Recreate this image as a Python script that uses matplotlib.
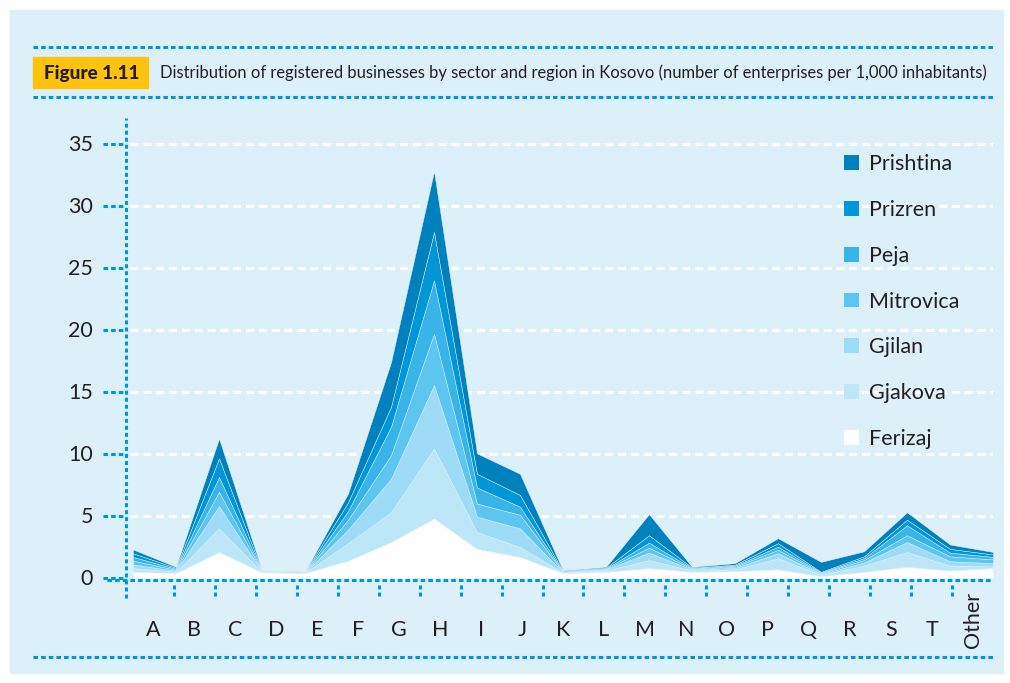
import matplotlib
matplotlib.use("Agg")
import matplotlib.pyplot as plt
from matplotlib.patches import Rectangle
from matplotlib.lines import Line2D

# sectors (x axis)
sectors = ['A', 'B', 'C', 'D', 'E', 'F', 'G', 'H', 'I', 'J', 'K',
           'L', 'M', 'N', 'O', 'P', 'Q', 'R', 'S', 'T', 'Other']

# enterprises per 1,000 inhabitants, stacked bottom -> top
ferizaj   = [0.50, 0.40, 2.10, 0.45, 0.40, 1.40, 2.90, 4.80, 2.35, 1.70, 0.40,
             0.50, 0.80, 0.50, 0.55, 0.70, 0.15, 0.50, 0.90, 0.60, 0.80]
gjakova   = [0.30, 0.10, 1.90, 0.03, 0.02, 1.40, 2.40, 5.65, 1.35, 0.80, 0.03,
             0.10, 0.65, 0.10, 0.15, 0.90, 0.10, 0.50, 1.20, 0.40, 0.15]
gjilan    = [0.30, 0.08, 1.80, 0.03, 0.02, 1.10, 2.70, 5.10, 1.25, 1.50, 0.03,
             0.08, 0.60, 0.08, 0.12, 0.40, 0.08, 0.25, 0.80, 0.35, 0.25]
mitrovica = [0.30, 0.08, 1.15, 0.02, 0.02, 0.80, 1.90, 4.15, 1.05, 1.10, 0.03,
             0.05, 0.40, 0.06, 0.10, 0.27, 0.06, 0.20, 0.55, 0.40, 0.30]
peja      = [0.30, 0.08, 1.20, 0.02, 0.02, 0.70, 2.30, 4.30, 1.30, 0.65, 0.03,
             0.05, 0.40, 0.05, 0.08, 0.26, 0.05, 0.15, 0.80, 0.30, 0.20]
prizren   = [0.30, 0.08, 1.50, 0.02, 0.02, 0.70, 1.60, 3.90, 1.10, 0.95, 0.03,
             0.05, 0.60, 0.05, 0.08, 0.28, 0.06, 0.15, 0.45, 0.30, 0.20]
prishtina = [0.30, 0.08, 1.60, 0.03, 0.02, 0.70, 3.60, 4.90, 1.65, 1.70, 0.05,
             0.07, 1.70, 0.06, 0.12, 0.40, 0.80, 0.40, 0.60, 0.35, 0.20]

regions = ['Ferizaj', 'Gjakova', 'Gjilan', 'Mitrovica', 'Peja', 'Prizren', 'Prishtina']
colors = ['#FFFFFF', '#BEE6F9', '#9DDBF7', '#5CC5F0', '#38B4E8', '#0096D8', '#0080BD']
y_ticks = [0, 5, 10, 15, 20, 25, 30, 35]

BG = '#DCF0FA'
BLUE = '#0096D8'
DARK = '#231F20'
W, H = 1010, 683
FONT = ['Lato', 'DejaVu Sans']


def fx(px):
    return px / W


def fy(py):
    return 1 - py / H


def fit_width(txt, width_px):
    # no condensed font here, so shrink the text until it spans the same width
    r = fig.canvas.get_renderer()
    w = txt.get_window_extent(r).width
    txt.set_fontsize(txt.get_fontsize() * width_px / w)


fig = plt.figure(figsize=(W / 100, H / 100), dpi=100)
fig.patch.set_facecolor('white')
fig.add_artist(Rectangle((fx(10), fy(673)), fx(993), 663 / H,
                         transform=fig.transFigure, color=BG, zorder=0))

# dotted rules around the title and at the bottom
for py in [47, 97, 657]:
    fig.add_artist(Line2D([fx(33), fx(993)], [fy(py), fy(py)], color=BLUE,
                          lw=2.2, dashes=(1.5, 1.0), transform=fig.transFigure))

fig.add_artist(Rectangle((fx(33), fy(88)), fx(115), 31 / H,
                         transform=fig.transFigure, color='#FFC20E'))
fig_lbl = fig.text(fx(44), fy(73), 'Figure 1.11', ha='left', va='center',
                   fontsize=15, fontweight='black', color=DARK, family=FONT)
title = fig.text(fx(160), fy(73),
                 'Distribution of registered businesses by sector and region in Kosovo '
                 '(number of enterprises per 1,000 inhabitants)',
                 ha='left', va='center', fontsize=14, color=DARK, family=FONT)
fit_width(fig_lbl, 96)
fit_width(title, 830)

# axes: data x 0..20 spans pixels 133..993, 12.4 px per unit on y
ax = fig.add_axes([fx(126), fy(598), (993 - 126) / W, 480 / H])
ax.set_facecolor('none')
ax.set_xlim(-7 / 43, 20)
ax.set_ylim(-20 / 12.4, 460 / 12.4)
ax.axis('off')

x = list(range(len(sectors)))
ax.stackplot(x, ferizaj, gjakova, gjilan, mitrovica, peja, prizren, prishtina,
             colors=colors, labels=regions, edgecolor='#E6F5FC',
             linewidth=0.3, zorder=2)

# white dashed gridlines
for v in y_ticks[1:]:
    ax.plot([-0.07, 20], [v, v], color='white', lw=2.2, dashes=(2.6, 1.6), zorder=1)

# y axis, ticks and labels
ax.plot([-7 / 43, -7 / 43], [-20 / 12.4, 460 / 12.4], color=BLUE, lw=2.2,
        dashes=(1.3, 1.0), clip_on=False, zorder=3)
for v in y_ticks:
    ax.plot([-30 / 43, -7 / 43], [v, v], color=BLUE, lw=2.2, dashes=(1.5, 1.0),
            clip_on=False, zorder=3)
    ax.text(-40 / 43, v - 0.6, str(v), ha='right', va='baseline', fontsize=15.5,
            color=DARK, family=FONT, clip_on=False)

# x axis, ticks and labels
ax.plot([-26 / 43, 20], [-0.16, -0.16], color=BLUE, lw=2.2, dashes=(1.5, 1.0),
        clip_on=False, zorder=3)
step = 20 / len(sectors)
for k in range(1, len(sectors)):
    ax.plot([k * step, k * step], [-0.56, -1.69], color=BLUE, lw=2.2,
            dashes=(1.3, 1.0), clip_on=False, zorder=3)
for j, name in enumerate(sectors):
    xc = (j + 0.5) * step
    if name == 'Other':
        ax.text(xc, -3.4, name, ha='center', va='center', rotation=90, fontsize=15.5,
                color=DARK, family=FONT, clip_on=False)
    else:
        ax.text(xc, -4.68, name, ha='center', va='baseline', fontsize=15.5,
                color=DARK, family=FONT, clip_on=False)

handles, labels = ax.get_legend_handles_labels()
leg = ax.legend(handles[::-1], labels[::-1], loc='upper left',
                bbox_to_anchor=(fx(844), fy(154)), bbox_transform=fig.transFigure,
                frameon=False, borderpad=0, borderaxespad=0, labelspacing=1.2,
                handlelength=0.68, handleheight=0.68, handletextpad=0.5,
                prop={'family': FONT, 'size': 15.5})
for t in leg.get_texts():
    t.set_color(DARK)
for h in leg.legend_handles:
    h.set_linewidth(0)

fig.savefig('out.png', dpi=100)
